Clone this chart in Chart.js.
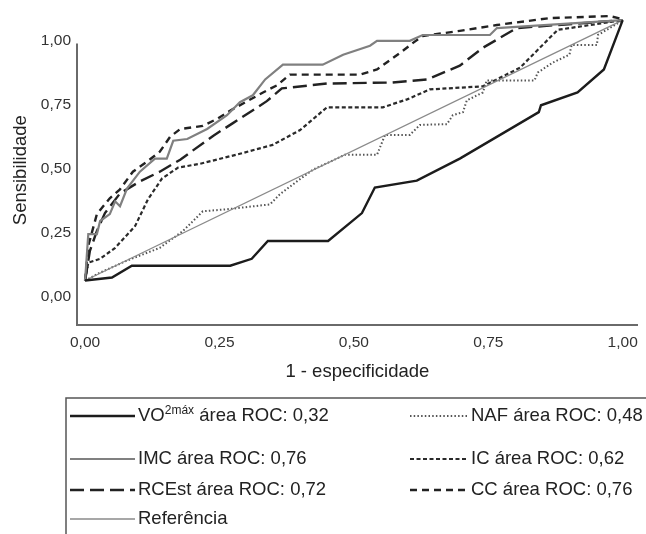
<!DOCTYPE html>
<html lang="pt">
<head>
<meta charset="UTF-8">
<title>Curvas ROC</title>
<script src="https://cdn.jsdelivr.net/npm/chart.js"></script>
<style>
  body {margin:0; background:#fff;}
  #wrap {width:646px; height:534px;}
</style>
</head>
<body>
<div id="wrap"><canvas id="rocChart"></canvas></div>
<script>
// ticks dos eixos
const xTicks = [0, 0.25, 0.5, 0.75, 1];
const yTicks = [0, 0.25, 0.5, 0.75, 1];
const xTickLabels = ['0,00', '0,25', '0,50', '0,75', '1,00'];
const yTickLabels = ['0,00', '0,25', '0,50', '0,75', '1,00'];

// VO2max
const vo2X = [0, 0.050, 0.087, 0.270, 0.310, 0.340, 0.452, 0.515, 0.539, 0.617, 0.697, 0.844, 0.848, 0.916, 0.965, 1.0];
const vo2Y = [0.062, 0.074, 0.120, 0.120, 0.147, 0.217, 0.217, 0.326, 0.426, 0.453, 0.539, 0.721, 0.748, 0.798, 0.888, 1.081];
// IMC
const imcX = [0, 0.006, 0.022, 0.028, 0.046, 0.056, 0.065, 0.078, 0.102, 0.130, 0.152, 0.164, 0.190, 0.227, 0.264, 0.288, 0.312, 0.335, 0.368, 0.442, 0.480, 0.530, 0.543, 0.604, 0.628, 0.753, 0.766, 1.0];
const imcY = [0.062, 0.244, 0.244, 0.295, 0.322, 0.372, 0.353, 0.422, 0.488, 0.539, 0.539, 0.609, 0.616, 0.655, 0.709, 0.760, 0.787, 0.849, 0.907, 0.907, 0.946, 0.981, 1.000, 1.000, 1.023, 1.023, 1.050, 1.081];
// RCEst
const rceX = [0, 0.009, 0.022, 0.037, 0.065, 0.102, 0.139, 0.177, 0.238, 0.275, 0.338, 0.366, 0.450, 0.572, 0.636, 0.697, 0.740, 0.803, 1.0];
const rceY = [0.062, 0.178, 0.256, 0.326, 0.403, 0.450, 0.488, 0.535, 0.628, 0.678, 0.764, 0.814, 0.833, 0.837, 0.849, 0.903, 0.973, 1.050, 1.081];
// Referencia
const refX = [0, 1.0];
const refY = [0.062, 1.081];
// NAF
const nafX = [0, 0.028, 0.078, 0.139, 0.182, 0.201, 0.219, 0.264, 0.344, 0.362, 0.394, 0.424, 0.468, 0.483, 0.543, 0.558, 0.604, 0.623, 0.673, 0.684, 0.703, 0.710, 0.740, 0.747, 0.836, 0.842, 0.870, 0.901, 0.905, 0.952, 0.954, 0.976, 1.0];
const nafY = [0.062, 0.093, 0.140, 0.190, 0.256, 0.295, 0.333, 0.341, 0.360, 0.399, 0.450, 0.496, 0.539, 0.554, 0.554, 0.632, 0.632, 0.671, 0.674, 0.709, 0.721, 0.767, 0.798, 0.845, 0.845, 0.876, 0.915, 0.946, 0.984, 0.984, 1.023, 1.050, 1.081];
// IC
const icX = [0, 0.006, 0.028, 0.056, 0.093, 0.117, 0.143, 0.173, 0.214, 0.288, 0.349, 0.400, 0.450, 0.554, 0.599, 0.641, 0.740, 0.809, 0.879, 1.0];
const icY = [0.062, 0.132, 0.147, 0.190, 0.275, 0.380, 0.461, 0.504, 0.519, 0.558, 0.593, 0.651, 0.740, 0.740, 0.771, 0.810, 0.822, 0.895, 1.043, 1.081];
// CC
const ccX = [0, 0.006, 0.022, 0.046, 0.065, 0.089, 0.115, 0.139, 0.158, 0.177, 0.219, 0.245, 0.275, 0.331, 0.357, 0.381, 0.511, 0.543, 0.586, 0.610, 0.628, 0.697, 0.766, 0.864, 0.976, 1.0];
const ccY = [0.062, 0.198, 0.322, 0.384, 0.419, 0.488, 0.527, 0.566, 0.624, 0.655, 0.667, 0.694, 0.733, 0.798, 0.826, 0.868, 0.868, 0.888, 0.953, 0.992, 1.019, 1.039, 1.062, 1.089, 1.097, 1.085];

const seriesNames = ['VO2máx área ROC: 0,32', 'IMC área ROC: 0,76', 'RCEst área ROC: 0,72', 'Referência',
                     'NAF área ROC: 0,48', 'IC área ROC: 0,62', 'CC área ROC: 0,76'];

const fontFam = '"Liberation Sans", Arial, sans-serif';
const axisColor = '#6a6a6a';
const yAxisTop = 0.99;

function pts(xs, ys) {
  return xs.map((x, i) => ({x: x, y: ys[i]}));
}

function serie(name, xs, ys, color, width, dash) {
  return {
    label: name,
    data: pts(xs, ys),
    borderColor: color,
    borderWidth: width,
    borderDash: dash,
    pointRadius: 0,
    tension: 0,
    fill: false,
    clip: false
  };
}

// legenda desenhada em caixa (2 colunas)
const legendCols = [[0, 1, 2, 3], [4, 5, 6]];
const legendLineX = [[70, 135], [410, 468]];
const legendTextX = [138, 471];
const legendRowY = [416, 459, 490, 519];

const rocExtras = {
  id: 'rocExtras',
  afterDraw(chart) {
    const {ctx, chartArea, scales} = chart;
    ctx.save();
    // eixo vertical (comeca em 1,00)
    ctx.strokeStyle = axisColor;
    ctx.lineWidth = 2;
    ctx.beginPath();
    ctx.moveTo(chartArea.left, scales.y.getPixelForValue(yAxisTop));
    ctx.lineTo(chartArea.left, chartArea.bottom + 1);
    ctx.stroke();

    // caixa da legenda
    ctx.strokeStyle = '#555';
    ctx.lineWidth = 1.5;
    ctx.beginPath();
    ctx.moveTo(66, 534);
    ctx.lineTo(66, 398);
    ctx.lineTo(646, 398);
    ctx.stroke();

    ctx.textBaseline = 'middle';
    ctx.fillStyle = '#222';
    legendCols.forEach((col, c) => {
      col.forEach((di, r) => {
        const ds = chart.data.datasets[di];
        const y = legendRowY[r];
        ctx.strokeStyle = ds.borderColor;
        ctx.lineWidth = ds.borderWidth;
        ctx.setLineDash(ds.borderDash || []);
        ctx.beginPath();
        ctx.moveTo(legendLineX[c][0], y);
        ctx.lineTo(legendLineX[c][1], y);
        ctx.stroke();
        ctx.setLineDash([]);
        let x = legendTextX[c];
        let txt = ds.label;
        if (txt.startsWith('VO2máx')) {
          ctx.font = '18.5px ' + fontFam;
          ctx.fillText('VO', x, y);
          x += ctx.measureText('VO').width;
          ctx.font = '12px ' + fontFam;
          ctx.fillText('2máx', x, y - 5);
          x += ctx.measureText('2máx').width;
          txt = txt.slice(6);
        }
        ctx.font = '18.5px ' + fontFam;
        ctx.fillText(txt, x, y);
      });
    });
    ctx.restore();
  }
};

const datasets = [
  serie(seriesNames[0], vo2X, vo2Y, '#1c1c1c', 2.4, []),
  serie(seriesNames[1], imcX, imcY, '#808080', 2.2, []),
  serie(seriesNames[2], rceX, rceY, '#222', 2.4, [14, 6]),
  serie(seriesNames[3], refX, refY, '#8a8a8a', 1.3, []),
  serie(seriesNames[4], nafX, nafY, '#555', 2, [1.5, 2.2]),
  serie(seriesNames[5], icX, icY, '#2a2a2a', 2.2, [4, 2.5]),
  serie(seriesNames[6], ccX, ccY, '#222', 2.4, [7, 5])
];

new Chart(document.getElementById('rocChart'), {
  type: 'line',
  data: {datasets: datasets},
  plugins: [rocExtras],
  options: {
    responsive: true,
    maintainAspectRatio: false,
    animation: false,
    layout: {padding: {left: 0, right: 8, top: 12, bottom: 149}},
    plugins: {legend: {display: false}, tooltip: {enabled: false}},
    scales: {
      x: {
        type: 'linear',
        min: -0.015,
        max: 1.028,
        grid: {display: false, drawTicks: false},
        border: {display: true, color: axisColor, width: 2},
        afterBuildTicks: s => { s.ticks = xTicks.map(v => ({value: v})); },
        afterFit: s => { s.height = 60; },
        ticks: {
          padding: 8,
          color: '#333',
          font: {family: fontFam, size: 15.5},
          callback: v => xTickLabels[xTicks.indexOf(v)]
        },
        title: {
          display: true,
          text: '1 - especificidade',
          color: '#222',
          font: {family: fontFam, size: 18.5},
          padding: {top: 0, bottom: 2}
        }
      },
      y: {
        type: 'linear',
        min: -0.112,
        max: 1.1,
        grid: {display: false, drawTicks: false},
        border: {display: false},
        afterBuildTicks: s => { s.ticks = yTicks.map(v => ({value: v})); },
        afterFit: s => { s.width = 77; },
        ticks: {
          padding: 6,
          color: '#333',
          font: {family: fontFam, size: 15.5},
          callback: v => yTickLabels[yTicks.indexOf(v)]
        },
        title: {
          display: true,
          text: 'Sensibilidade',
          color: '#222',
          font: {family: fontFam, size: 18.5},
          padding: {top: 10, bottom: 0}
        }
      }
    }
  }
});
</script>
</body>
</html>
